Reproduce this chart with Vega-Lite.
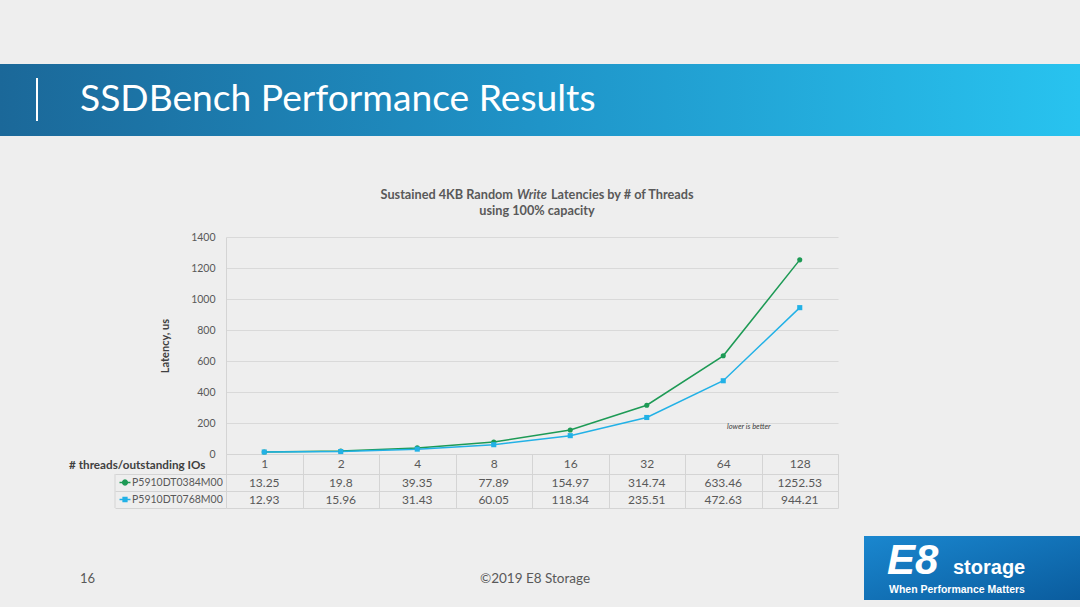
{
  "$schema": "https://vega.github.io/schema/vega-lite/v6.json",
  "width": 612,
  "height": 217,
  "autosize": {"type": "none"},
  "padding": {"left": 226, "top": 237, "right": 242, "bottom": 153},
  "background": "#eeeeee",
  "config": {
    "view": {"stroke": null},
    "font": "Lato",
    "axis": {"labelFont": "Lato", "titleFont": "Lato"}
  },
  "datasets": {
    "lat": [
      {"threads": "1", "series": "P5910DT0384M00", "value": 13.25},
      {"threads": "2", "series": "P5910DT0384M00", "value": 19.8},
      {"threads": "4", "series": "P5910DT0384M00", "value": 39.35},
      {"threads": "8", "series": "P5910DT0384M00", "value": 77.89},
      {"threads": "16", "series": "P5910DT0384M00", "value": 154.97},
      {"threads": "32", "series": "P5910DT0384M00", "value": 314.74},
      {"threads": "64", "series": "P5910DT0384M00", "value": 633.46},
      {"threads": "128", "series": "P5910DT0384M00", "value": 1252.53},
      {"threads": "1", "series": "P5910DT0768M00", "value": 12.93},
      {"threads": "2", "series": "P5910DT0768M00", "value": 15.96},
      {"threads": "4", "series": "P5910DT0768M00", "value": 31.43},
      {"threads": "8", "series": "P5910DT0768M00", "value": 60.05},
      {"threads": "16", "series": "P5910DT0768M00", "value": 118.34},
      {"threads": "32", "series": "P5910DT0768M00", "value": 235.51},
      {"threads": "64", "series": "P5910DT0768M00", "value": 472.63},
      {"threads": "128", "series": "P5910DT0768M00", "value": 944.21}
    ],
    "seriesList": [
      {"series": "P5910DT0384M00"},
      {"series": "P5910DT0768M00"}
    ],
    "header": [{"label": "SSDBench Performance Results"}],
    "t1a": [{"label": "Sustained 4KB Random"}],
    "t1b": [{"label": "Write"}],
    "t1c": [{"label": "Latencies by # of Threads"}],
    "t2": [{"label": "using 100% capacity"}],
    "note": [{"label": "lower is better"}],
    "page": [{"label": "16"}],
    "copy": [{"label": "©2019 E8 Storage"}],
    "logoE8": [{"label": "E8"}],
    "logoStorage": [{"label": "storage"}],
    "logoTag": [{"label": "When Performance Matters"}]
  },
  "layer": [
    {
      "data": {"name": "header"},
      "mark": {"type": "rect", "color": {"gradient": "linear", "x1": 0, "x2": 1, "y1": 0, "y2": 0, "stops": [{"offset": 0, "color": "#1b6899"}, {"offset": 0.5, "color": "#1f94c8"}, {"offset": 1, "color": "#28c3ef"}]}},
      "encoding": {"x": {"value": -226}, "x2": {"value": 854}, "y": {"value": -173}, "y2": {"value": -101}}
    },
    {
      "data": {"name": "header"},
      "mark": {"type": "rule", "color": "#ffffff", "strokeWidth": 2},
      "encoding": {"x": {"value": -189}, "y": {"value": -159}, "y2": {"value": -116}}
    },
    {
      "data": {"name": "header"},
      "mark": {"type": "text", "align": "left", "baseline": "alphabetic", "fontSize": 37.2, "color": "#ffffff", "font": "Lato"},
      "encoding": {"x": {"value": -146}, "y": {"value": -126}, "text": {"field": "label"}}
    },
    {
      "data": {"name": "t1a"},
      "mark": {"type": "text", "align": "right", "baseline": "middle", "fontSize": 12.7, "fontWeight": "bold", "color": "#595959"},
      "encoding": {"x": {"value": 287}, "y": {"value": -42}, "text": {"field": "label"}}
    },
    {
      "data": {"name": "t1b"},
      "mark": {"type": "text", "align": "left", "baseline": "middle", "fontSize": 12.7, "fontWeight": "bold", "fontStyle": "italic", "color": "#595959"},
      "encoding": {"x": {"value": 291}, "y": {"value": -42}, "text": {"field": "label"}}
    },
    {
      "data": {"name": "t1c"},
      "mark": {"type": "text", "align": "left", "baseline": "middle", "fontSize": 12.7, "fontWeight": "bold", "color": "#595959"},
      "encoding": {"x": {"value": 325}, "y": {"value": -42}, "text": {"field": "label"}}
    },
    {
      "data": {"name": "t2"},
      "mark": {"type": "text", "align": "center", "baseline": "middle", "fontSize": 12.7, "fontWeight": "bold", "color": "#595959"},
      "encoding": {"x": {"value": 311}, "y": {"value": -26}, "text": {"field": "label"}}
    },
    {
      "data": {"name": "lat"},
      "mark": {"type": "line", "strokeWidth": 1.5},
      "encoding": {
        "x": {
          "field": "threads", "type": "ordinal", "sort": ["1", "2", "4", "8", "16", "32", "64", "128"],
          "scale": {"type": "band", "paddingInner": 0, "paddingOuter": 0},
          "axis": {
            "title": "# threads/outstanding IOs", "titleFontSize": 11.7, "titleFontWeight": "bold", "titleColor": "#404040",
            "titleX": -21, "titleY": 14, "titleAlign": "right", "titleAnchor": "end", "titleBaseline": "alphabetic",
            "labelFontSize": 12, "labelColor": "#595959", "labelAngle": 0, "labelPadding": -50,
            "tickBand": "extent", "tickSize": 54, "tickColor": "#d4d4d4", "domainColor": "#d4d4d4", "grid": false
          }
        },
        "y": {
          "field": "value", "type": "quantitative",
          "scale": {"domain": [0, 1400], "nice": false},
          "axis": {
            "values": [0, 200, 400, 600, 800, 1000, 1200, 1400], "format": "d",
            "title": "Latency, us", "titleFontSize": 11, "titleFontWeight": "bold", "titleColor": "#404040", "titlePadding": 20,
            "labelFontSize": 10.5, "labelColor": "#595959", "labelPadding": 11, "ticks": false,
            "domain": true, "domainColor": "#d4d4d4", "grid": true, "gridColor": "#d9d9d9"
          }
        },
        "color": {
          "field": "series", "type": "nominal",
          "scale": {"domain": ["P5910DT0384M00", "P5910DT0768M00"], "range": ["#1d9a55", "#22b1e6"]},
          "legend": null
        }
      }
    },
    {
      "data": {"name": "lat"},
      "mark": {"type": "point", "filled": true, "opacity": 1},
      "encoding": {
        "x": {"field": "threads", "type": "ordinal", "sort": ["1", "2", "4", "8", "16", "32", "64", "128"]},
        "y": {"field": "value", "type": "quantitative", "scale": {"domain": [0, 1400], "nice": false}, "axis": null},
        "color": {"field": "series", "type": "nominal", "legend": null},
        "shape": {"field": "series", "type": "nominal", "scale": {"domain": ["P5910DT0384M00", "P5910DT0768M00"], "range": ["circle", "square"]}, "legend": null},
        "size": {"value": 26}
      }
    },
    {
      "data": {"name": "lat"},
      "mark": {"type": "text", "fontSize": 12, "color": "#595959", "baseline": "middle"},
      "encoding": {
        "x": {"field": "threads", "type": "ordinal", "sort": ["1", "2", "4", "8", "16", "32", "64", "128"]},
        "y": {
          "field": "series", "type": "nominal",
          "scale": {"type": "band", "domain": ["P5910DT0384M00", "P5910DT0768M00"], "range": [237, 271], "paddingInner": 0, "paddingOuter": 0},
          "axis": {"orient": "left", "title": null, "labels": false, "domain": false, "ticks": true, "tickBand": "extent", "tickSize": 111, "tickColor": "#d4d4d4", "grid": true, "gridColor": "#d4d4d4"}
        },
        "text": {"field": "value", "type": "nominal"}
      }
    },
    {
      "data": {"name": "seriesList"},
      "mark": {"type": "point", "filled": true, "opacity": 1, "strokeWidth": 1.3},
      "encoding": {
        "x": {"value": -101},
        "y": {
          "field": "series", "type": "nominal",
          "scale": {"type": "band", "domain": ["P5910DT0384M00", "P5910DT0768M00"], "range": [237, 271], "paddingInner": 0, "paddingOuter": 0},
          "axis": null
        },
        "shape": {"field": "series", "type": "nominal", "scale": {"domain": ["P5910DT0384M00", "P5910DT0768M00"], "range": ["M-1,0H1M0.45,0L0.39,0.225L0.225,0.39L0,0.45L-0.225,0.39L-0.39,0.225L-0.45,0L-0.39,-0.225L-0.225,-0.39L0,-0.45L0.225,-0.39L0.39,-0.225Z", "M-1,0H1M-0.36,-0.36H0.36V0.36H-0.36Z"]}, "legend": null},
        "color": {"field": "series", "type": "nominal", "legend": null},
        "stroke": {"field": "series", "type": "nominal", "scale": {"domain": ["P5910DT0384M00", "P5910DT0768M00"], "range": ["#1d9a55", "#22b1e6"]}, "legend": null},
        "size": {"value": 121}
      }
    },
    {
      "data": {"name": "seriesList"},
      "mark": {"type": "text", "align": "left", "baseline": "middle", "fontSize": 10.5, "color": "#595959"},
      "encoding": {
        "x": {"value": -94},
        "y": {
          "field": "series", "type": "nominal",
          "scale": {"type": "band", "domain": ["P5910DT0384M00", "P5910DT0768M00"], "range": [237, 271], "paddingInner": 0, "paddingOuter": 0},
          "axis": null
        },
        "text": {"field": "series"}
      }
    },
    {
      "data": {"name": "header"},
      "mark": {"type": "rule", "color": "#d4d4d4", "strokeWidth": 1},
      "encoding": {"x": {"value": -111}, "y": {"value": 237}, "y2": {"value": 271}}
    },
    {
      "data": {"name": "note"},
      "mark": {"type": "text", "align": "left", "baseline": "middle", "fontSize": 7.5, "fontStyle": "italic", "color": "#404040"},
      "encoding": {"x": {"value": 501}, "y": {"value": 190}, "text": {"field": "label"}}
    },
    {
      "data": {"name": "page"},
      "mark": {"type": "text", "align": "left", "baseline": "middle", "fontSize": 13, "color": "#595959"},
      "encoding": {"x": {"value": -146}, "y": {"value": 342}, "text": {"field": "label"}}
    },
    {
      "data": {"name": "copy"},
      "mark": {"type": "text", "align": "center", "baseline": "middle", "fontSize": 13.5, "color": "#595959"},
      "encoding": {"x": {"value": 309}, "y": {"value": 342}, "text": {"field": "label"}}
    },
    {
      "data": {"name": "logoE8"},
      "mark": {"type": "rect", "color": {"gradient": "linear", "x1": 0, "x2": 1, "y1": 0, "y2": 1, "stops": [{"offset": 0, "color": "#1a87cf"}, {"offset": 1, "color": "#0a5c9e"}]}},
      "encoding": {"x": {"value": 638}, "x2": {"value": 854}, "y": {"value": 299}, "y2": {"value": 363}}
    },
    {
      "data": {"name": "logoE8"},
      "mark": {"type": "text", "align": "left", "baseline": "alphabetic", "fontSize": 42, "fontWeight": 900, "fontStyle": "italic", "color": "#ffffff", "font": "Liberation Sans"},
      "encoding": {"x": {"value": 661}, "y": {"value": 337}, "text": {"field": "label"}}
    },
    {
      "data": {"name": "logoStorage"},
      "mark": {"type": "text", "align": "left", "baseline": "alphabetic", "fontSize": 20, "fontWeight": "bold", "color": "#ffffff", "font": "Liberation Sans"},
      "encoding": {"x": {"value": 727}, "y": {"value": 337}, "text": {"field": "label"}}
    },
    {
      "data": {"name": "logoTag"},
      "mark": {"type": "text", "align": "left", "baseline": "alphabetic", "fontSize": 10.5, "fontWeight": "bold", "color": "#ffffff", "font": "Liberation Sans"},
      "encoding": {"x": {"value": 663}, "y": {"value": 356}, "text": {"field": "label"}}
    }
  ],
  "resolve": {"scale": {"y": "independent", "shape": "independent"}}
}
